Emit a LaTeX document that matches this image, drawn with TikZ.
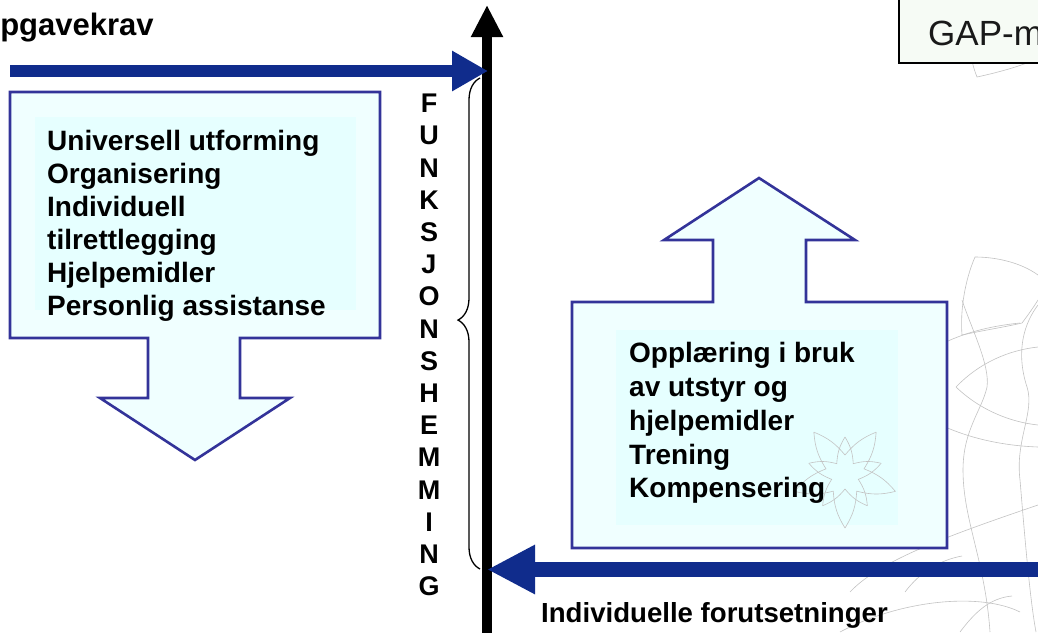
\documentclass[tikz,border=0pt]{standalone}
\usepackage{fontspec}
\setmainfont{Liberation Sans}
\usetikzlibrary{arrows.meta,decorations.pathreplacing}
\definecolor{navy}{RGB}{16,44,140}
\definecolor{callline}{RGB}{51,51,153}
\definecolor{callfill}{RGB}{240,255,255}
\definecolor{innerfill}{RGB}{230,255,255}
\definecolor{gapfill}{RGB}{246,251,245}
\definecolor{ornament}{RGB}{195,195,195}
\begin{document}
\begin{tikzpicture}[x=1pt,y=-1pt,
  callout/.style={draw=callline,fill=callfill,line width=2.6pt,line join=miter},
  innerbox/.style={fill=innerfill,draw=none},
  bluearrow/.style={draw=navy,line cap=butt},
  listtext/.style={font=\fontsize{28}{33}\selectfont\bfseries,align=left,inner sep=0pt,anchor=north west},
  righttext/.style={font=\fontsize{28}{33.75}\selectfont\bfseries,align=left,inner sep=0pt,anchor=north west},
  vletter/.style={font=\fontsize{27}{30}\selectfont\bfseries,inner sep=0pt,anchor=base},
  labeltext/.style={font=\fontsize{28}{33}\selectfont\bfseries,inner sep=0pt,anchor=base west},
  orn/.style={draw=ornament,line width=0.6pt}]
\useasboundingbox (0,0) rectangle (1038,632);
\clip (0,0) rectangle (1038,632);
\fill[white] (0,0) rectangle (1038,632);

% ornament background
\draw[orn] (892,387) .. controls (920,345) and (970,328) .. (1020,323);
\draw[orn] (892,387) .. controls (920,425) and (980,445) .. (1038,447);
\draw[orn] (956,387) .. controls (980,362) and (1010,350) .. (1038,347);
\draw[orn] (956,387) .. controls (980,410) and (1010,422) .. (1038,425);
\draw[orn] (962,300) .. controls (972,330) and (990,365) .. (987,387) .. controls (982,410) and (963,430) .. (963,470) .. controls (963,520) and (985,560) .. (990,632);
\draw[orn] (1038,305) .. controls (1025,322) and (1015,350) .. (1027,387) .. controls (1035,412) and (1015,440) .. (1020,480) .. controls (1025,540) and (1030,600) .. (1036,632);
\draw[orn] (968,-2) .. controls (965,30) and (970,60) .. (977,77) .. controls (1000,72) and (1025,65) .. (1038,58);
\draw[orn] (1000,-2) .. controls (1003,10) and (1006,18) .. (1010,22) .. controls (1020,20) and (1030,18) .. (1038,17);
\draw[orn] (1038,275) .. controls (1020,262) and (995,257) .. (975,257) .. controls (965,280) and (960,310) .. (962,335);
\draw[orn] (962,335) .. controls (985,330) and (1005,327) .. (1022,323) .. controls (1028,315) and (1033,308) .. (1038,300);
\draw[orn] (850,592) .. controls (880,560) and (950,535) .. (1038,505);
\draw[orn] (905,592) .. controls (920,572) and (940,560) .. (962,556);
\draw[orn] (840,632) .. controls (900,600) and (980,592) .. (1020,612);
\draw[orn] (960,632) .. controls (975,612) and (990,598) .. (1012,596);

% callouts
\draw[callout] (10,92) -- (380,92) -- (380,338) -- (240,338) -- (240,398) -- (290,398)
  -- (195,460) -- (100,398) -- (148,398) -- (148,338) -- (10,338) -- cycle;
\fill[innerbox] (35,117) rectangle (356,310);
\draw[callout] (572,302) -- (713,302) -- (713,240) -- (664,240) -- (759,178) -- (855,240)
  -- (806,240) -- (806,302) -- (947,302) -- (947,548) -- (572,548) -- cycle;
\fill[innerbox] (616,330) rectangle (898,525);

% flower ornament inside right box
\begin{scope}[shift={(845,475)}]
  \foreach \a in {90,162,234,306,378}
    \draw[orn] (\a:53) to[bend left=14] (\a+36:20) to[bend left=14] (\a+72:53);
  \foreach \a in {126,198,270,342,414}
    \draw[orn] (\a:38) to[bend left=14] (\a+36:14) to[bend left=14] (\a+72:38);
\end{scope}

% GAP box
\node[draw=black,fill=gapfill,line width=2pt,minimum width=160pt,minimum height=80pt,anchor=south west,inner sep=0pt] (gapbox) at (898,64) {};
\node[font=\fontsize{35}{40}\selectfont,anchor=base west,inner sep=0pt,text=black!90] (gaptext) at (928,45) {GAP-m};

% texts
\node[labeltext,font=\fontsize{31}{36}\selectfont\bfseries] (oppg) at (-43,35) {Oppgavekrav};
\node[listtext] (leftlist) at (47,130.5) {Universell utforming\\Organisering\\Individuell\\tilrettlegging\\Hjelpemidler\\Personlig assistanse};
\node[righttext] (rightlist) at (629,342.5) {Opplæring i bruk\\av utstyr og\\hjelpemidler\\Trening\\Kompensering};
\node[labeltext,font=\fontsize{27.6}{33}\selectfont\bfseries] (indiv) at (541,622) {Individuelle forutsetninger};

\foreach \l [count=\i from 0] in {F,U,N,K,S,J,O,N,S,H,E,M,M,I,N,G}
  \node[vletter] (v\i) at (429,{112.7+32.2*\i}) {\l};

% axis and arrows
\coordinate (axisbot) at (487,640);
\coordinate (axistop) at (487,5);
\draw[line width=10pt,-{Triangle[length=32pt,width=30pt]}] (axisbot) -- (axistop);

\coordinate (topstart) at (10,71);
\coordinate (topend) at (488,71);
\draw[bluearrow,line width=12pt,-{Triangle[length=36pt,width=38pt]}] (topstart) -- (topend);

\coordinate (botstart) at (1045,569.5);
\coordinate (botend) at (487,569.5);
\draw[bluearrow,line width=15pt,-{Triangle[length=48pt,width=46pt]}] (botstart) -- (botend);

% brace
\coordinate (brbot) at (480,569);
\coordinate (brtop) at (480,78);
\draw[line width=1.3pt,decorate,decoration={brace,amplitude=22pt,aspect=0.507}] (brbot) -- (brtop);
\end{tikzpicture}
\end{document}
